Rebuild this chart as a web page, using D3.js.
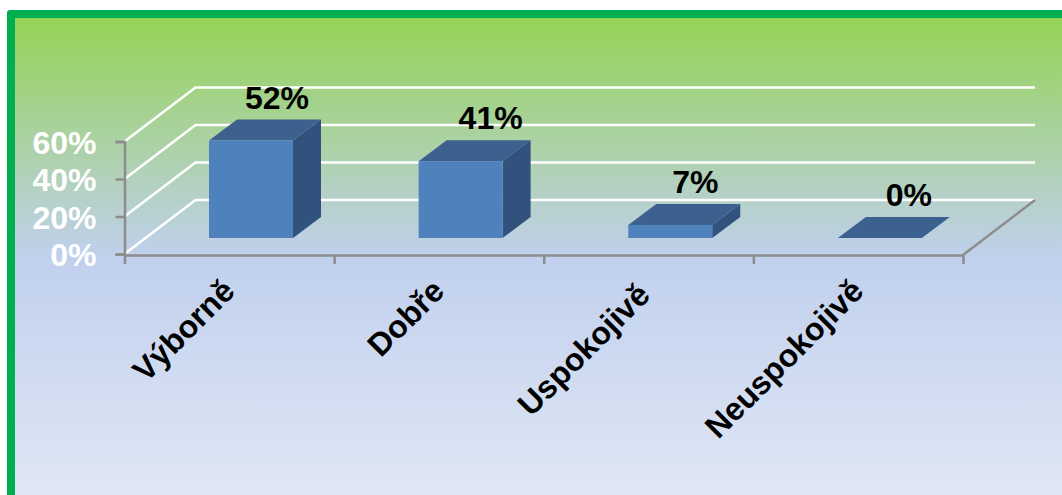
<!DOCTYPE html>
<html>
<head>
<meta charset="utf-8">
<script src="https://cdn.jsdelivr.net/npm/d3@7"></script>
<style>
  html, body { margin: 0; padding: 0; background: #fff; overflow: hidden; }
  text { font-family: "Liberation Sans", Arial, sans-serif; font-weight: bold; }
</style>
</head>
<body>
<svg width="1062" height="495"></svg>
<script>
const categories = ["Výborně", "Dobře", "Uspokojivě", "Neuspokojivě"];
const values = [52, 41, 7, 0];
const yTicks = [0, 20, 40, 60];

const width = 1062, height = 495;
const axisGrey = "#8c8c8c";

const svg = d3.select("svg");

// background panel with the green frame on top and left only
const defs = svg.append("defs");
const grad = defs.append("linearGradient")
    .attr("id", "bg").attr("x1", 0).attr("y1", 0).attr("x2", 0).attr("y2", 1);
grad.append("stop").attr("offset", "0%").attr("stop-color", "#95d355");
grad.append("stop").attr("offset", "50%").attr("stop-color", "#c0d0ed");
grad.append("stop").attr("offset", "100%").attr("stop-color", "#e0e7f5");

svg.append("rect")
    .attr("x", 7).attr("y", 10).attr("width", width + 20).attr("height", height + 20)
    .attr("rx", 3)
    .attr("fill", "#00b050");
svg.append("rect")
    .attr("x", 15).attr("y", 18).attr("width", width).attr("height", height - 18)
    .attr("fill", "url(#bg)");

// scales
const x = d3.scaleBand().domain(categories).range([124.5, 963]);
const xEdge = d3.scaleLinear().domain([0, categories.length]).range([124.5, 963]);
const y = d3.scaleLinear().domain([0, 60]).range([254, 141.5]);

// 3d depth of the chart floor and of the bars
const depth = { dx: 71, dy: -54 };
const barDepth = { dx: 28, dy: -21 };
const barInset = 84.5, barWidth = 84, barLift = -16;

// gridlines: slanted side wall + back wall
const grid = svg.append("g").attr("fill", "none").attr("stroke", "#fff").attr("stroke-width", 2.5);
grid.selectAll("path")
    .data(yTicks)
    .join("path")
    .attr("d", d => d3.line()([
        [x.range()[0], y(d)],
        [x.range()[0] + depth.dx, y(d) + depth.dy],
        [x.range()[1] + depth.dx + 1, y(d) + depth.dy]
    ]));

// floor edge on the right
svg.append("path")
    .attr("d", d3.line()([
        [x.range()[1], 255],
        [x.range()[1] + depth.dx + 1, y(0) + depth.dy]
    ]))
    .attr("fill", "none").attr("stroke", axisGrey).attr("stroke-width", 2.5);

// axes
const yAxis = svg.append("g")
    .attr("transform", `translate(${x.range()[0]},0)`)
    .call(d3.axisLeft(y).tickValues(yTicks).tickSize(9).tickPadding(19).tickFormat(d => d + "%"));
yAxis.selectAll("path, line").attr("stroke", axisGrey).attr("stroke-width", 2.5);
yAxis.selectAll("text")
    .attr("fill", "#fff").attr("font-size", 32)
    .attr("font-family", '"Liberation Sans", Arial, sans-serif')
    .attr("font-weight", "bold")
    .attr("dy", "0.37em");

const xAxis = svg.append("g")
    .attr("transform", "translate(0,255)")
    .call(d3.axisBottom(xEdge).ticks(categories.length).tickSize(9).tickSizeOuter(0).tickFormat(""));
xAxis.selectAll("path, line").attr("stroke", axisGrey).attr("stroke-width", 2.5);

// bars
const bars = svg.append("g").selectAll("g")
    .data(categories.map((c, i) => ({ c, v: values[i], i })))
    .join("g")
    .attr("transform", d => `translate(${x(d.c) + barInset},${barLift})`);

bars.append("path") // side
    .attr("fill", "#31527c")
    .attr("d", d => d3.line()([
        [barWidth, y(0)],
        [barWidth + barDepth.dx, y(0) + barDepth.dy],
        [barWidth + barDepth.dx, y(d.v) + barDepth.dy],
        [barWidth, y(d.v)]
    ]));
bars.append("path") // top
    .attr("fill", "#3c618f")
    .attr("d", d => d3.line()([
        [0, y(d.v)],
        [barDepth.dx, y(d.v) + barDepth.dy],
        [barWidth + barDepth.dx, y(d.v) + barDepth.dy],
        [barWidth, y(d.v)]
    ]));
bars.append("rect") // front
    .attr("fill", "#4f81bd")
    .attr("x", 0).attr("width", barWidth)
    .attr("y", d => y(d.v))
    .attr("height", d => y(0) - y(d.v));

// value labels, the original has them slightly off centre
const labelNudge = [1, 5, 0, 4];
bars.append("text")
    .attr("x", d => barWidth / 2 + 25 + labelNudge[d.i])
    .attr("y", d => y(d.v) - 32)
    .attr("text-anchor", "middle")
    .attr("font-size", 32)
    .attr("fill", "#000")
    .text(d => d.v + "%");

// category labels
const catNudge = [0, 0, -4, 0];
svg.append("g").selectAll("text")
    .data(categories)
    .join("text")
    .attr("text-anchor", "end")
    .attr("font-size", 32)
    .attr("fill", "#000")
    .attr("transform", (d, i) => `translate(${x(d) + 112 + catNudge[i]},${293 - catNudge[i]}) rotate(-45)`)
    .text(d => d);
</script>
</body>
</html>
